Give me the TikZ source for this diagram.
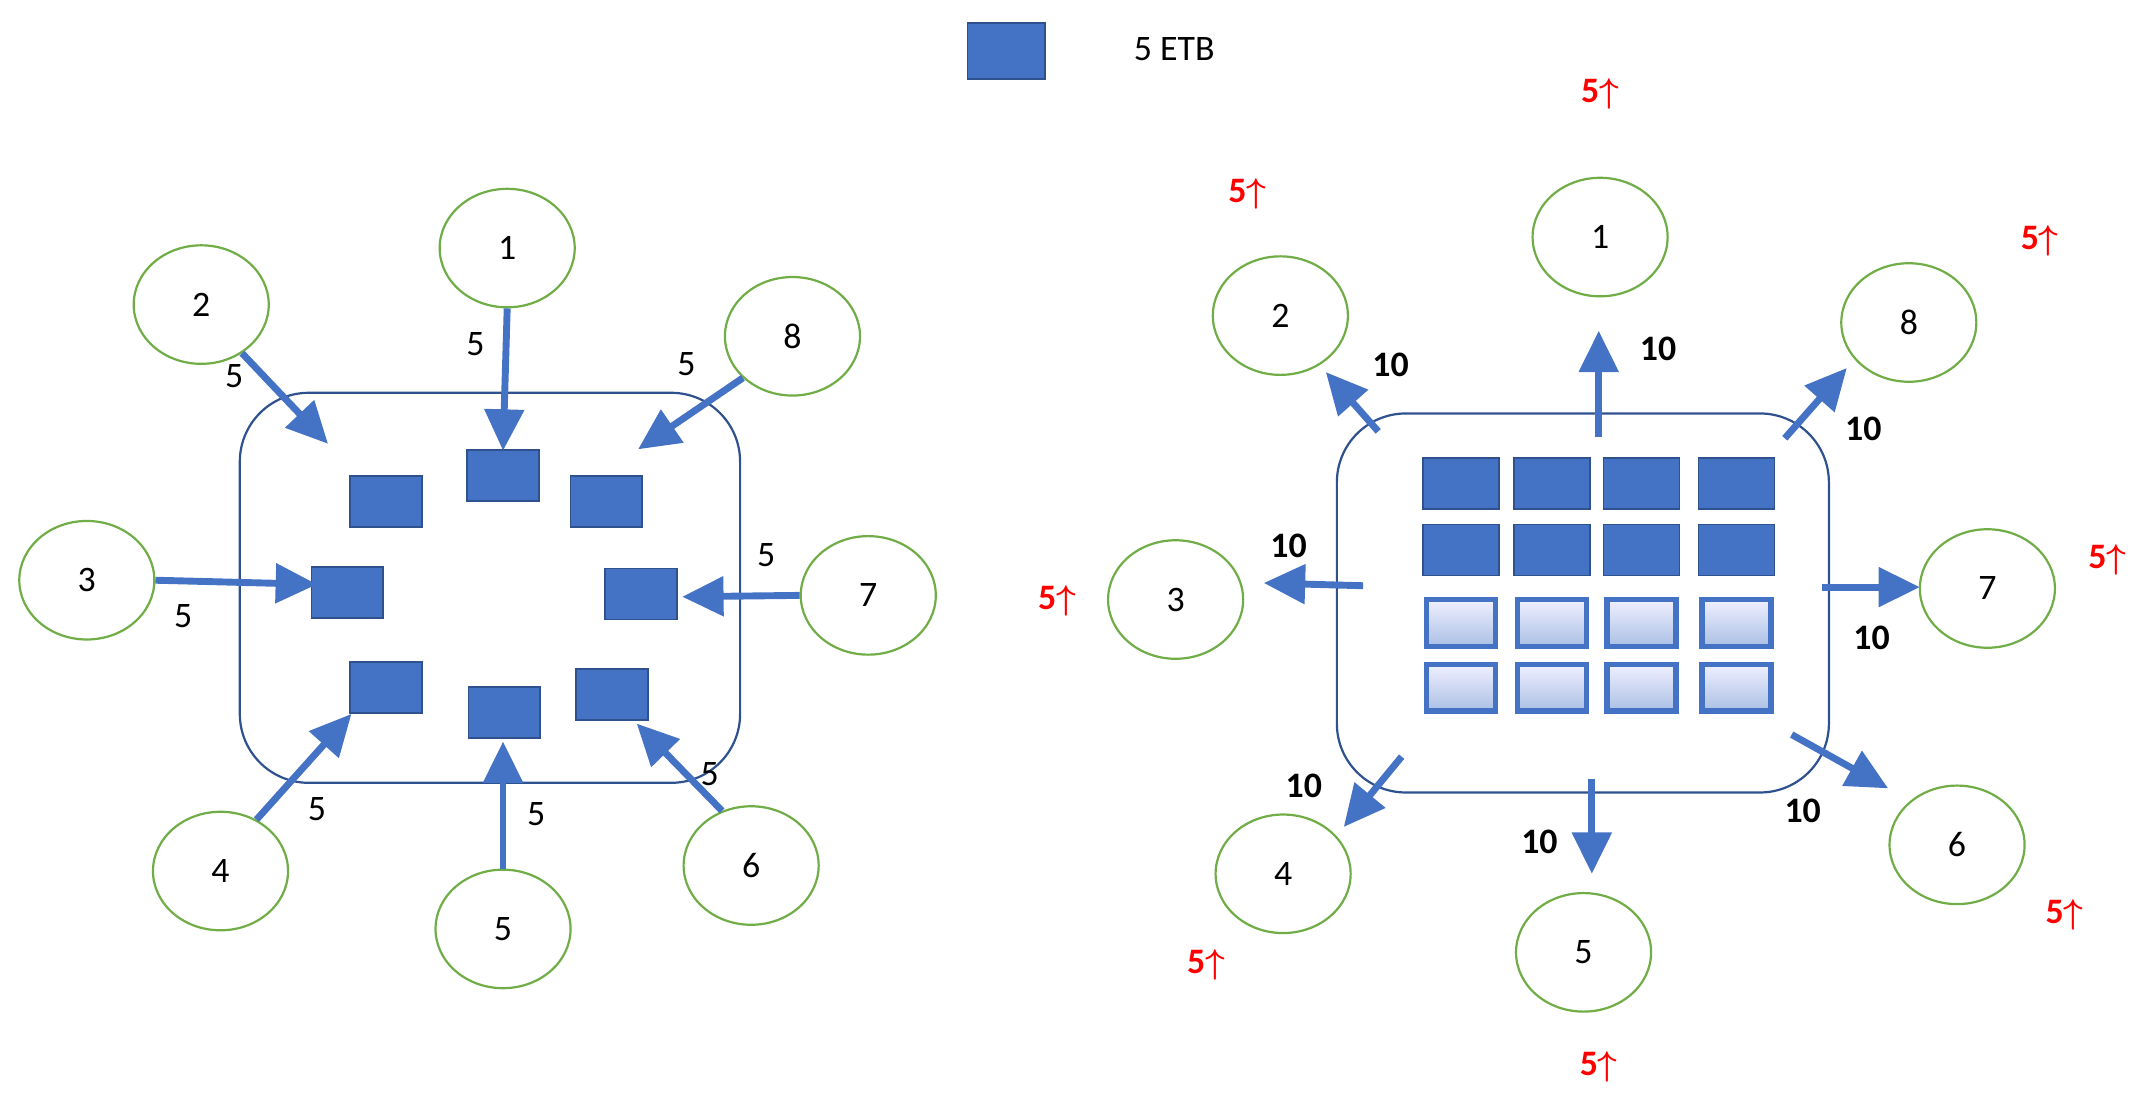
\documentclass[tikz,border=0pt]{standalone}
\usepackage{amsmath}
\usepackage{fontspec}
\setmainfont{Carlito}
\usetikzlibrary{arrows.meta,shapes.geometric}
\definecolor{bl}{HTML}{4472C4}
\definecolor{bld}{HTML}{2F528F}
\definecolor{gr}{HTML}{70AD47}
\begin{document}
\begin{tikzpicture}[x=1pt,y=-1pt,
  circ/.style={draw=gr,line width=1.6pt,ellipse,minimum width=98pt,minimum height=86pt,font=\fontsize{26}{28}\selectfont},
  sq/.style={draw=bld,line width=1.2pt,fill=bl,minimum width=52pt,minimum height=37pt,inner sep=0pt},
  lsq/.style={draw=bl,line width=4pt,top color=blue!6,bottom color=bl!45,minimum width=50pt,minimum height=34pt,inner sep=0pt},
  arr/.style={draw=bl,line width=5pt,-{Triangle[length=30pt,width=28pt]}},
  lab/.style={font=\fontsize{26}{28}\selectfont},
  blab/.style={font=\bfseries\fontsize{26}{28}\selectfont},
  rlab/.style={font=\bfseries\fontsize{26}{28}\selectfont,text=red},
  box/.style={draw=bld,line width=1.6pt,rounded corners=50pt}]
\useasboundingbox (0,0) rectangle (1560,803);
% legend
\node[sq,minimum width=56pt,minimum height=41pt] (leg) at (730,37) {};
\node[lab] (legt) at (852,36) {5 ETB};
% left
\draw[box] (174,285) rectangle (537,568);
\node[circ] (a1) at (368,180) {1};
\node[circ] (a2) at (146,221) {2};
\node[circ] (a8) at (575,244) {8};
\node[circ] (a3) at (63,421) {3};
\node[circ] (a7) at (630,432) {7};
\node[circ] (a4) at (160,632) {4};
\node[circ] (a5) at (365,674) {5};
\node[circ] (a6) at (545,628) {6};
\node[sq] (s1) at (365,345) {};
\node[sq] (s2) at (280,364) {};
\node[sq] (s8) at (440,364) {};
\node[sq] (s3) at (252,430) {};
\node[sq] (s7) at (465,431) {};
\node[sq] (s4) at (280,499) {};
\node[sq] (s5) at (366,517) {};
\node[sq] (s6) at (444,504) {};
\coordinate (e1) at (365,327); \coordinate (e2) at (238,322); \coordinate (e8) at (463,326);
\coordinate (e3) at (230,424); \coordinate (e7) at (495,433); \coordinate (e4) at (255,518);
\coordinate (e5) at (365,538); \coordinate (e6) at (462,525);
\draw[arr] (a1.south) -- (e1);
\draw[arr] (a2.-50) -- (e2);
\draw[arr] (a8.-140) -- (e8);
\draw[arr] (a3.east) -- (e3);
\draw[arr] (a7.west) -- (e7);
\draw[arr] (a4.55) -- (e4);
\draw[arr] (a5.north) -- (e5);
\draw[arr] (a6.118) -- (e6);
\node[lab] (l1) at (345,250) {5};
\node[lab] (l2) at (170,273) {5};
\node[lab] (l8) at (498,264) {5};
\node[lab] (l3) at (133,447) {5};
\node[lab] (l7) at (556,403) {5};
\node[lab] (l4) at (230,587) {5};
\node[lab] (l5) at (389,591) {5};
\node[lab] (l6) at (515,562) {5};
% right
\draw[box] (970,300) rectangle (1327,575);
\foreach \x [count=\i] in {1060,1126,1191,1260}{
  \node[sq,minimum width=55pt] (d1\i) at (\x,351) {};
  \node[sq,minimum width=55pt] (d2\i) at (\x,399) {};
  \node[lsq] (g1\i) at (\x,452) {};
  \node[lsq] (g2\i) at (\x,499) {};
}
\node[circ] (b1) at (1161,172) {1};
\node[circ] (b2) at (929,229) {2};
\node[circ] (b8) at (1385,234) {8};
\node[circ] (b3) at (853,435) {3};
\node[circ] (b7) at (1442,427) {7};
\node[circ] (b4) at (931,634) {4};
\node[circ] (b5) at (1149,691) {5};
\node[circ] (b6) at (1420,613) {6};
\coordinate (f1) at (1160,317); \coordinate (f2) at (1000,313); \coordinate (f8) at (1295,318);
\coordinate (f3) at (989,425); \coordinate (f7) at (1322,426); \coordinate (f4) at (1017,549);
\coordinate (f5) at (1155,565); \coordinate (f6) at (1300,533);
\coordinate (t1) at (1160,240); \coordinate (t2) at (962,270); \coordinate (t8) at (1340,267);
\coordinate (t3) at (917,423); \coordinate (t7) at (1393,426); \coordinate (t4) at (975,600);
\coordinate (t5) at (1155,634); \coordinate (t6) at (1370,572);
\foreach \i in {1,2,8,3,7,4,5,6}{\draw[arr] (f\i) -- (t\i);}
\node[blab] (m1) at (1203,253) {10};
\node[blab] (m2) at (1009,265) {10};
\node[blab] (m8) at (1352,311) {10};
\node[blab] (m3) at (935,396) {10};
\node[blab] (m7) at (1358,463) {10};
\node[blab] (m4) at (946,570) {10};
\node[blab] (m5) at (1117,611) {10};
\node[blab] (m6) at (1308,588) {10};
\node[rlab] (r1) at (1161,68) {5$\boldsymbol{\uparrow}$};
\node[rlab] (r2) at (905,141) {5$\boldsymbol{\uparrow}$};
\node[rlab] (r8) at (1480,175) {5$\boldsymbol{\uparrow}$};
\node[rlab] (r3) at (767,436) {5$\boldsymbol{\uparrow}$};
\node[rlab] (r7) at (1529,406) {5$\boldsymbol{\uparrow}$};
\node[rlab] (r4) at (875,700) {5$\boldsymbol{\uparrow}$};
\node[rlab] (r6) at (1498,664) {5$\boldsymbol{\uparrow}$};
\node[rlab] (r5) at (1160,774) {5$\boldsymbol{\uparrow}$};
\end{tikzpicture}
\end{document}
